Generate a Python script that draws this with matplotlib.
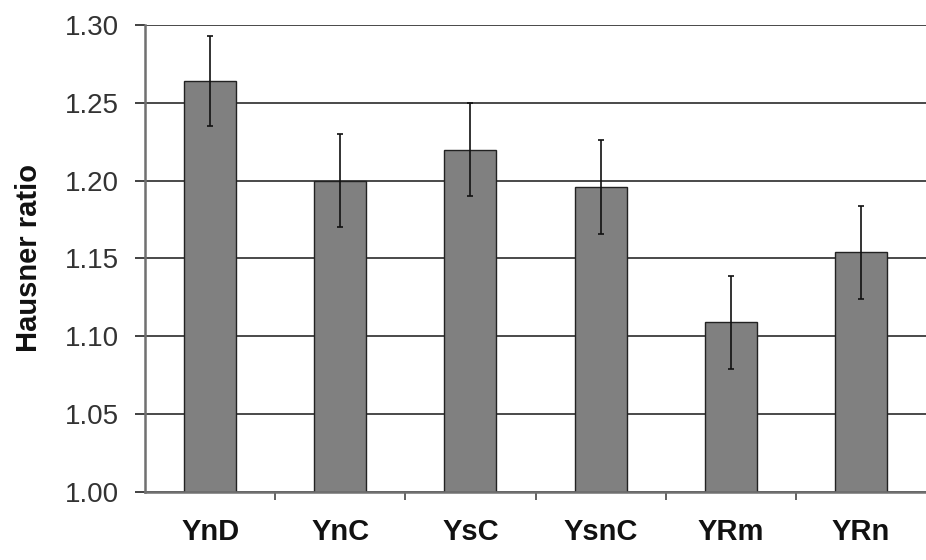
import numpy as np
import matplotlib.pyplot as plt

plt.rcParams['font.family'] = ['Liberation Sans', 'DejaVu Sans']

# Hausner ratio per sample
samples = ["YnD", "YnC", "YsC", "YsnC", "YRm", "YRn"]
ratio = [1.264, 1.200, 1.220, 1.196, 1.109, 1.154]
err = [0.029, 0.030, 0.030, 0.030, 0.030, 0.030]
yticks = [1.00, 1.05, 1.10, 1.15, 1.20, 1.25, 1.30]

fig = plt.figure(figsize=(9.26, 5.6), dpi=100)
ax = fig.add_axes([0.1566, 0.1214, 0.8434, 0.834])

x = np.arange(len(samples))
ax.set_axisbelow(True)
ax.grid(axis='y', color='#3a3a3a', linewidth=1.3)
ax.bar(x, [r - 1.0 for r in ratio], bottom=1.0, width=0.4, color='#808080',
       edgecolor='#222222', linewidth=1.0, zorder=2)
ax.errorbar(x, ratio, yerr=err, fmt='none', ecolor='#111111', elinewidth=1.2,
            capsize=2.5, capthick=1.2, zorder=3)

ax.set_xlim(-0.5, len(samples) - 0.5)
ax.set_ylim(1.0, 1.30)
ax.set_yticks(yticks)
ax.set_yticklabels([f"{v:.2f}" for v in yticks], fontsize=20, color='#333333')
ax.set_xticks(x)
ax.set_xticklabels(samples, fontsize=21, fontweight='bold', color='#111111')
ax.set_xticks(np.arange(0.5, len(samples) - 0.5, 1.0), minor=True)
ax.tick_params(axis='x', which='major', length=0, pad=19)
ax.tick_params(axis='x', which='minor', length=6, width=1.3, color='#555555')
ax.tick_params(axis='y', length=7, width=1.3, color='#333333', pad=12)

for side in ['top', 'right']:
    ax.spines[side].set_visible(False)
for side in ['left', 'bottom']:
    ax.spines[side].set_color('#707070')
    ax.spines[side].set_linewidth(1.8)

ax.set_ylabel("Hausner ratio", fontsize=21, fontweight='bold', color='#111111')
ax.yaxis.set_label_coords(-0.13, 0.5)

fig.savefig("out.png", dpi=100)
